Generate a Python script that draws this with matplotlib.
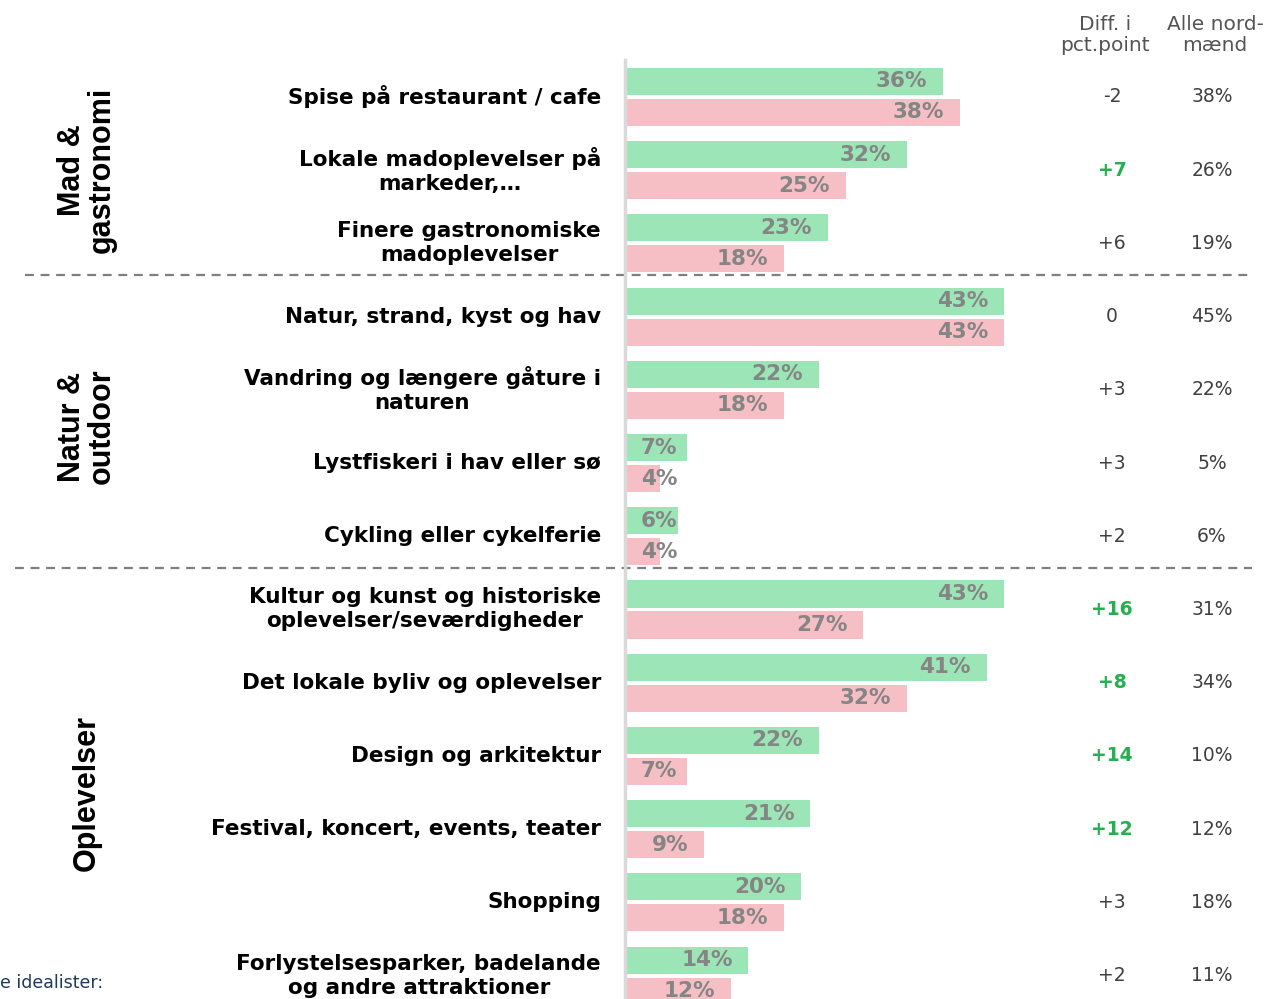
import numpy as np
import matplotlib
matplotlib.use("Agg")
import matplotlib.pyplot as plt
from matplotlib.transforms import blended_transform_factory

# data
labels = [
    "Spise på restaurant / cafe",
    "Lokale madoplevelser på\nmarkeder,…",
    "Finere gastronomiske\nmadoplevelser",
    "Natur, strand, kyst og hav",
    "Vandring og længere gåture i\nnaturen",
    "Lystfiskeri i hav eller sø",
    "Cykling eller cykelferie",
    "Kultur og kunst og historiske\noplevelser/seværdigheder",
    "Det lokale byliv og oplevelser",
    "Design og arkitektur",
    "Festival, koncert, events, teater",
    "Shopping",
    "Forlystelsesparker, badelande\nog andre attraktioner",
]
green_vals = [36, 32, 23, 43, 22, 7, 6, 43, 41, 22, 21, 20, 14]
pink_vals = [38, 25, 18, 43, 18, 4, 4, 27, 32, 7, 9, 18, 12]
diff_vals = ["-2", "+7", "+6", "0", "+3", "+3", "+2", "+16", "+8", "+14", "+12", "+3", "+2"]
diff_highlight = [False, True, False, False, False, False, False, True, True, True, True, False, False]
alle_vals = [38, 26, 19, 45, 22, 5, 6, 31, 34, 10, 12, 18, 11]
groups = ["Mad &\ngastronomi", "Natur &\noutdoor", "Oplevelser"]
group_sizes = [3, 4, 6]

GREEN = "#9ce5b6"
PINK = "#f6bfc5"
W, H = 1269, 999

fig = plt.figure(figsize=(W / 100, H / 100), dpi=100)
ax_left = 625 / W
ax = fig.add_axes([ax_left, 0, 1 - ax_left, 939 / H])
n = len(labels)
y = np.arange(n)
ax.set_xlim(0, (W - 625) / 8.82)
ax.set_ylim(12.32, -0.505)

bh = 0.37
ax.barh(y - 0.212, green_vals, height=bh, color=GREEN, zorder=2)
ax.barh(y + 0.212, pink_vals, height=bh, color=PINK, zorder=2)

for s in ["top", "right", "bottom"]:
    ax.spines[s].set_visible(False)
ax.spines["left"].set_color("#d9d9d9")
ax.spines["left"].set_linewidth(2.5)
ax.set_xticks([])
ax.set_yticks([])

# value labels in bars
for i in range(n):
    for v, off in [(green_vals[i], -0.212), (pink_vals[i], 0.212)]:
        xr = max(v - 1.8, 5.9)
        ax.text(xr, y[i] + off, f"{v}%", ha="right", va="center",
                fontsize=15.5, fontweight="bold", color="#858585", zorder=3)

tr = blended_transform_factory(fig.transFigure, ax.transData)

# row labels and right columns
for i in range(n):
    ax.text(601 / W, y[i], labels[i], transform=tr, ha="right", va="center",
            fontsize=15.5, fontweight="bold", color="black", linespacing=1.25,
            multialignment="center")
    hl = diff_highlight[i]
    ax.text(1112 / W, y[i], diff_vals[i], transform=tr, ha="center", va="center",
            fontsize=13.5, fontweight="bold" if hl else "normal",
            color="#22b14c" if hl else "#404040")
    ax.text(1212 / W, y[i], f"{alle_vals[i]}%", transform=tr, ha="center",
            va="center", fontsize=13.5, color="#404040")

# headers
fig.text(1105 / W, 1 - 35 / H, "Diff. i\npct.point", ha="center", va="center",
         fontsize=14.5, color="#555555", linespacing=1.15)
fig.text(1215 / W, 1 - 35 / H, "Alle nord-\nmænd", ha="center", va="center",
         fontsize=14.5, color="#555555", linespacing=1.15)

# group separators and group labels
start = 0
seps = []
for g, size in zip(groups, group_sizes):
    end = start + size
    mid = (start + end - 1) / 2
    ax.text(87 / W, mid, g, transform=tr, ha="center", va="center",
            rotation=90, fontsize=22, fontweight="bold",
            family=["Liberation Sans", "DejaVu Sans"], linespacing=1.0)
    if end < n:
        seps.append(end - 0.57)
    start = end
for k, sy in enumerate(seps):
    x0 = 25 / W if k == 0 else 15 / W
    ax.plot([x0, 1252 / W], [sy, sy], transform=tr, color="#7f7f7f",
            linestyle=(0, (4, 3)), linewidth=1.6, clip_on=False, zorder=1)

fig.text(0, 1 - 983 / H, "e idealister:", ha="left", va="center",
         fontsize=12.5, color="#1f3b5a")

fig.savefig("out.png", dpi=100)
